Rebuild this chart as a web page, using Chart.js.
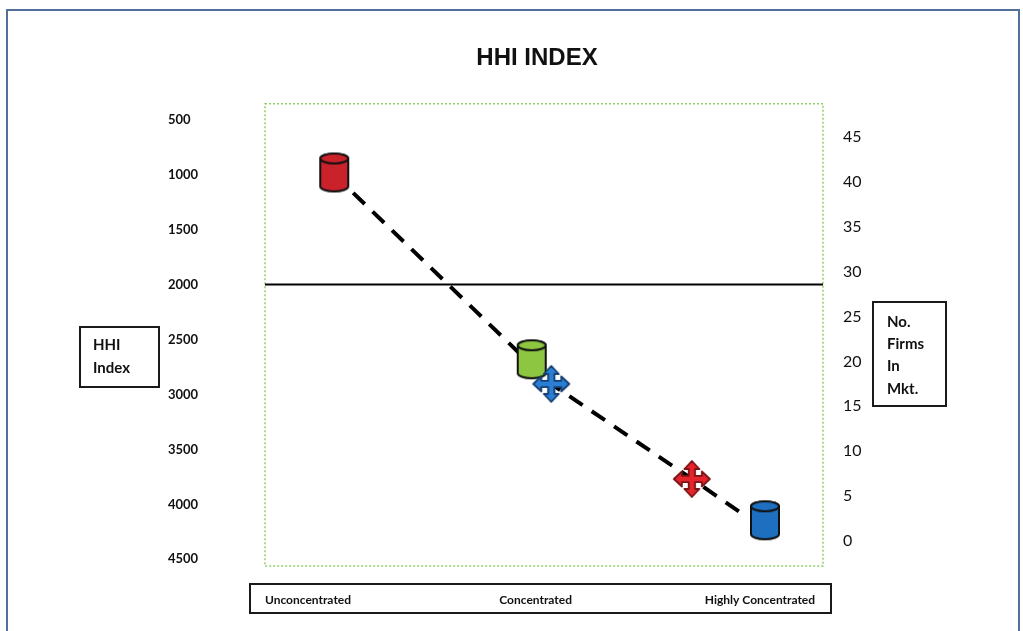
<!DOCTYPE html>
<html>
<head>
<meta charset="utf-8">
<title>HHI INDEX</title>
<script src="https://cdn.jsdelivr.net/npm/chart.js@4.4.0/dist/chart.umd.min.js"></script>
<style>
  html, body { margin: 0; padding: 0; background: #fff; }
  #wrap { position: relative; width: 1023px; height: 631px; overflow: hidden; }
  #frame {
    position: absolute; left: 6px; top: 9px; width: 1010px; height: 660px;
    border: 2px solid #51709a; pointer-events: none;
  }
</style>
</head>
<body>
<div id="wrap">
  <canvas id="hhiChart" width="1023" height="631"></canvas>
  <div id="frame"></div>
</div>
<script>
// eixos
var hhiTicks = [500, 1000, 1500, 2000, 2500, 3000, 3500, 4000, 4500];
var firmTicks = [0, 5, 10, 15, 20, 25, 30, 35, 40, 45];
var categoryLabels = ['Unconcentrated', 'Concentrated', 'Highly Concentrated'];
var categoryPos = [7.7, 48.5, 88.7];

// cilindros (HHI, eixo esquerdo)
var cylinderX = [12.4, 47.8, 89.6];
var cylinderHHI = [980, 2680, 4145];
var cylinderColors = ['#c9222b', '#8dc641', '#1f6fc0'];

// setas (n. de firmas, eixo direito)
var arrowX = [51.3, 76.5];
var arrowFirms = [17.5, 6.9];
var arrowColors = [['#2a7fd4', '#163e70'], ['#e5232b', '#7a1414']];

// linha tracejada (n. de firmas)
var trendX = [15.8, 51.3, 76.5, 85.1];
var trendFirms = [38.8, 17.5, 6.9, 3.2];

// limite de 2000
var thresholdHHI = 2000;

function makeCylinder(color) {
  var c = document.createElement('canvas');
  c.width = 32; c.height = 42;
  var g = c.getContext('2d');
  g.lineWidth = 2;
  g.strokeStyle = '#111';
  g.fillStyle = color;
  g.beginPath();
  g.moveTo(2, 7);
  g.lineTo(2, 35);
  g.ellipse(16, 35, 14, 5, 0, Math.PI, 0, true);
  g.lineTo(30, 7);
  g.ellipse(16, 7, 14, 5, 0, 0, Math.PI, true);
  g.closePath();
  g.fill();
  g.stroke();
  g.beginPath();
  g.ellipse(16, 7, 14, 5, 0, 0, Math.PI * 2);
  g.fill();
  g.stroke();
  return c;
}

function makeArrow(fill, line) {
  var c = document.createElement('canvas');
  c.width = 40; c.height = 40;
  var g = c.getContext('2d');
  var t = 18, b = 10, h = 7.5, s = 3.2;
  var pts = [
    [0, -t], [h, -b], [s, -b], [s, -s], [b, -s], [b, -h], [t, 0], [b, h], [b, s], [s, s],
    [s, b], [h, b], [0, t], [-h, b], [-s, b], [-s, s], [-b, s], [-b, h], [-t, 0], [-b, -h],
    [-b, -s], [-s, -s], [-s, -b], [-h, -b]
  ];
  g.translate(20, 20);
  g.beginPath();
  pts.forEach(function (p, i) {
    if (i === 0) g.moveTo(p[0], p[1]); else g.lineTo(p[0], p[1]);
  });
  g.closePath();
  g.fillStyle = fill;
  g.fill();
  g.lineWidth = 1.8;
  g.lineJoin = 'round';
  g.strokeStyle = line;
  g.stroke();
  return c;
}

function toPoints(xs, ys) {
  return xs.map(function (x, i) { return { x: x, y: ys[i] }; });
}

// caixas de texto e borda da area
var decorPlugin = {
  id: 'decor',
  beforeDatasetsDraw: function (chart) {
    var a = chart.chartArea;
    var ctx = chart.ctx;
    ctx.save();
    ctx.strokeStyle = '#93cf68';
    ctx.lineWidth = 1.5;
    ctx.setLineDash([2, 2]);
    ctx.strokeRect(a.left, a.top, a.right - a.left, a.bottom - a.top);
    ctx.restore();
  },
  afterDraw: function (chart) {
    var ctx = chart.ctx;
    var a = chart.chartArea;
    var yl = chart.scales.hhi;
    var x = chart.scales.x;
    ctx.save();
    ctx.strokeStyle = '#1a1a1a';
    ctx.lineWidth = 2;
    // caixa do eixo x
    ctx.strokeRect(a.left - 15, x.top + 18, (a.right + 8) - (a.left - 15), 29);
    // caixa HHI Index
    ctx.strokeRect(yl.left - 88, 327, 79, 60);
    // caixa No. Firms
    ctx.strokeRect(873, 302, 73, 104);
    ctx.fillStyle = '#111';
    ctx.textBaseline = 'middle';
    ctx.textAlign = 'left';
    ctx.font = 'bold 15px Lato';
    ctx.fillText('HHI', yl.left - 75, 345);
    ctx.fillText('Index', yl.left - 75, 368);
    ['No.', 'Firms', 'In', 'Mkt.'].forEach(function (t, i) {
      ctx.fillText(t, 887, 322 + i * 22.3);
    });
    ctx.restore();
  }
};

var ctx = document.getElementById('hhiChart').getContext('2d');
var hhiChart = new Chart(ctx, {
  type: 'scatter',
  data: {
    datasets: [
      {
        label: 'Arrows',
        data: toPoints(arrowX, arrowFirms),
        yAxisID: 'firms',
        pointStyle: arrowColors.map(function (c) { return makeArrow(c[0], c[1]); }),
        pointRadius: 12,
        order: 0
      },
      {
        label: 'HHI',
        data: toPoints(cylinderX, cylinderHHI),
        yAxisID: 'hhi',
        pointStyle: cylinderColors.map(makeCylinder),
        pointRadius: 12,
        order: 1
      },
      {
        label: 'Trend',
        data: toPoints(trendX, trendFirms),
        yAxisID: 'firms',
        showLine: true,
        borderColor: '#000',
        borderWidth: 4,
        borderDash: [16, 11],
        pointRadius: 0,
        order: 2
      },
      {
        label: 'Threshold',
        data: [{ x: 0, y: thresholdHHI }, { x: 100, y: thresholdHHI }],
        yAxisID: 'hhi',
        showLine: true,
        borderColor: '#000',
        borderWidth: 2,
        pointRadius: 0,
        order: 3
      }
    ]
  },
  options: {
    responsive: false,
    animation: false,
    events: [],
    layout: { padding: { left: 168, right: 117, top: 0, bottom: 15 } },
    plugins: {
      legend: { display: false },
      tooltip: { enabled: false },
      title: {
        display: true,
        text: 'HHI INDEX',
        color: '#111',
        font: { family: "'Liberation Sans', Arial", size: 24, weight: 'bold' },
        padding: { top: 44, bottom: 31 }
      }
    },
    scales: {
      x: {
        type: 'linear',
        min: 0,
        max: 100,
        grid: { display: false, drawTicks: false },
        border: { display: false },
        afterBuildTicks: function (axis) {
          axis.ticks = categoryPos.map(function (v) { return { value: v }; });
        },
        afterFit: function (axis) { axis.height = 50; },
        ticks: {
          autoSkip: false,
          maxRotation: 0,
          padding: 27,
          color: '#111',
          font: { family: 'Lato', size: 12, weight: 'bold' },
          callback: function (v, i) { return categoryLabels[i]; }
        }
      },
      hhi: {
        type: 'linear',
        position: 'left',
        reverse: true,
        min: 355,
        max: 4561,
        grid: { display: false, drawTicks: false },
        border: { display: false },
        afterBuildTicks: function (axis) {
          axis.ticks = hhiTicks.map(function (v) { return { value: v }; });
        },
        afterFit: function (axis) { axis.width = 97; },
        ticks: {
          autoSkip: false,
          crossAlign: 'far',
          color: '#111',
          font: { family: 'Lato', size: 13, weight: 'bold' },
          callback: function (v) { return String(v); }
        }
      },
      firms: {
        type: 'linear',
        position: 'right',
        min: -2.81,
        max: 48.74,
        grid: { display: false, drawTicks: false },
        border: { display: false },
        afterBuildTicks: function (axis) {
          axis.ticks = firmTicks.map(function (v) { return { value: v }; });
        },
        afterFit: function (axis) { axis.width = 83; },
        ticks: {
          autoSkip: false,
          padding: 20,
          color: '#111',
          font: { family: 'Lato', size: 16 },
          callback: function (v) { return String(v); }
        }
      }
    }
  },
  plugins: [decorPlugin]
});
</script>
</body>
</html>
